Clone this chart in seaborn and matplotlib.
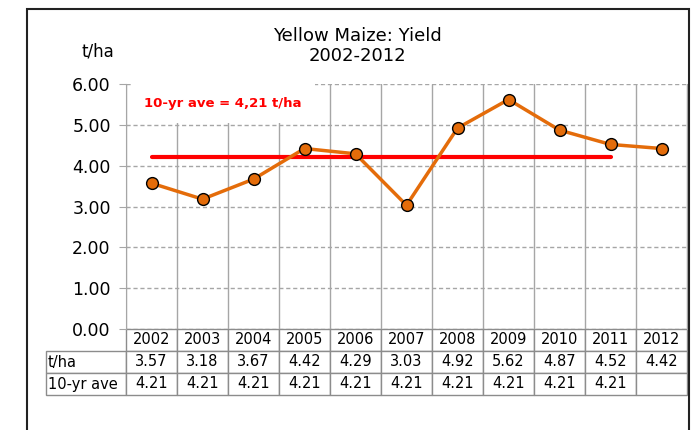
import numpy as np
import pandas as pd
import matplotlib
matplotlib.use("Agg")
import matplotlib.pyplot as plt
from matplotlib.patches import Rectangle
import seaborn as sns

# data
years = ['2002', '2003', '2004', '2005', '2006', '2007', '2008', '2009', '2010', '2011', '2012']
yield_tha = [3.57, 3.18, 3.67, 4.42, 4.29, 3.03, 4.92, 5.62, 4.87, 4.52, 4.42]
ave_10yr = [4.21, 4.21, 4.21, 4.21, 4.21, 4.21, 4.21, 4.21, 4.21, 4.21, None]
y_ticks = [0, 1, 2, 3, 4, 5, 6]

sns.set_style("white")
plt.rcParams['font.family'] = ['DejaVu Sans']
plt.rcParams['text.color'] = 'black'
plt.rcParams['ytick.labelcolor'] = 'black'

df = pd.DataFrame({'pos': np.arange(len(years)), 'yield': yield_tha,
                   'ave': pd.array(ave_10yr, dtype='Float64')})

fig = plt.figure(figsize=(6.93, 4.30), dpi=100)
ax = fig.add_axes([126 / 693, 101 / 430, 561 / 693, 245 / 430])

orange = '#E46C0A'
sns.lineplot(data=df.dropna(subset=['ave']), x='pos', y='ave', ax=ax,
             color='#FF0000', lw=3, zorder=3)
sns.lineplot(data=df, x='pos', y='yield', ax=ax, color=orange, lw=2.5,
             marker='o', markersize=8.5, markerfacecolor=orange,
             markeredgecolor='black', markeredgewidth=1.0, zorder=4)

ax.set_xlim(-0.5, len(years) - 0.5)
ax.set_ylim(0, 6)
ax.set_xlabel('')
ax.set_ylabel('')

# vertical grid at category boundaries, dashed horizontal grid
ax.set_xticks(np.arange(-0.5, len(years), 1))
ax.set_xticklabels([])
ax.tick_params(axis='x', length=0)
ax.xaxis.grid(True, color='#A6A6A6', lw=1.0, ls='-')
ax.set_yticks(y_ticks)
ax.set_yticklabels([f'{v:.2f}' for v in y_ticks], fontsize=12.5)
ax.tick_params(axis='y', length=5, color='#A6A6A6', pad=6, left=True)
ax.yaxis.grid(True, color='#A6A6A6', lw=1.0, ls=(0, (3, 2)))
ax.set_axisbelow(True)
for s in ['top', 'bottom']:
    ax.spines[s].set_visible(False)
ax.spines['left'].set_color('#A6A6A6')
ax.spines['right'].set_color('#A6A6A6')

ax.text(0.173, 0.92, '10-yr ave = 4,21 t/ha', transform=ax.transAxes,
        color='#FF0000', fontsize=9.5, fontweight='bold', ha='center', va='center',
        bbox=dict(boxstyle='square,pad=1.0', fc='white', ec='none'), zorder=2)

# data table under the axis
cell_text = [years,
             [f'{v:.2f}' for v in yield_tha],
             [f'{v:.2f}' if v is not None else '' for v in ave_10yr]]
row_labels = ['', 't/ha', '10-yr ave']
table_rows = [[r] + c for r, c in zip(row_labels, cell_text)]
first_w = 80
col_w = [first_w / (first_w + 561)] + [51 / (first_w + 561)] * len(years)
tbl = ax.table(cellText=table_rows, colWidths=col_w, cellLoc='center',
               bbox=[-first_w / 561, -66 / 245, (first_w + 561) / 561, 66 / 245])
tbl.auto_set_font_size(False)
tbl.set_fontsize(10.5)
for (r, c), cell in tbl.get_celld().items():
    cell.set_edgecolor('#8C8C8C')
    cell.set_linewidth(1.0)
    cell.get_text().set_color('black')
    if c == 0:
        cell._loc = 'left'
        cell.get_text().set_ha('left')
        cell.PAD = 0.02
        if r == 0:
            cell.visible_edges = ''

fig.text(357 / 693, 1 - 46 / 430, 'Yellow Maize: Yield\n2002-2012', ha='center',
         va='center', fontsize=13, linespacing=1.2)
fig.text(98 / 693, 1 - 52 / 430, 't/ha', ha='center', va='center', fontsize=12)

# chart border
fig.patches.append(Rectangle((27 / 693, -0.1), 662 / 693, 1.1 - 9 / 430,
                             transform=fig.transFigure, fill=False,
                             ec='#222222', lw=1.5))

fig.savefig('out.png', dpi=100)
